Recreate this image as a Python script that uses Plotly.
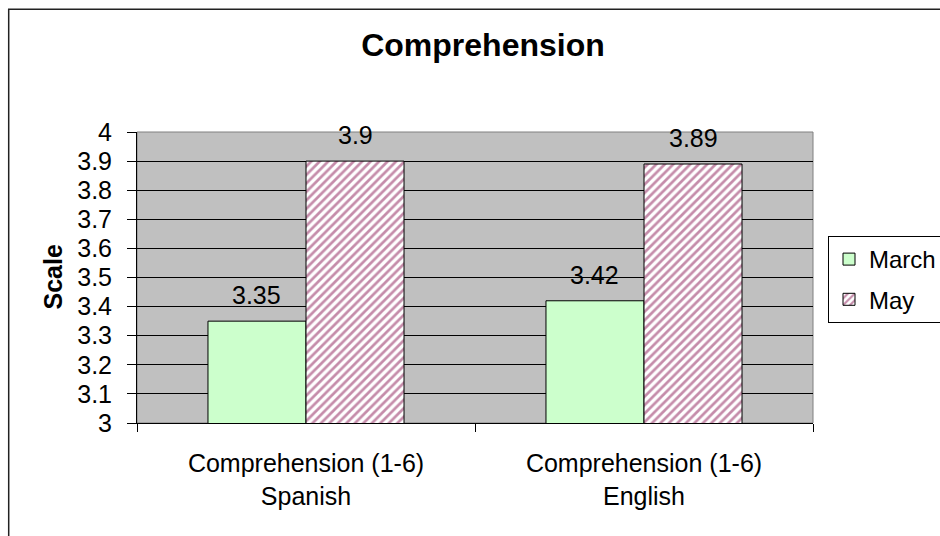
import plotly.graph_objects as go

categories = ["Comprehension (1-6)<br>Spanish", "Comprehension (1-6)<br>English"]
series_names = ["March", "May"]
march_values = [3.35, 3.42]
may_values = [3.9, 3.89]
y_range = [3, 4]
y_dtick = 0.1
chart_title = "Comprehension"
y_title = "Scale"

FONT = "Liberation Sans, Arial, sans-serif"
W, H = 940, 536
ML, MR, MT, MB = 137, 127, 132, 113
BARGAP = 0.42
FS = 25

fig = go.Figure()
fig.add_trace(go.Bar(
    name=series_names[0], x=categories, y=march_values,
    marker=dict(color="#CCFFCC", line=dict(color="black", width=1)),
    legendgroup="a",
))
fig.add_trace(go.Bar(
    name=series_names[1], x=categories, y=may_values,
    marker=dict(color="white", line=dict(color="black", width=1),
                pattern=dict(shape="/", fgcolor="#8B1A55", bgcolor="white",
                             size=6, solidity=0.45)),
    legendgroup="b",
))

# value labels above bars
bw = (1 - BARGAP) / 2
annotations = []
for si, vals in enumerate([march_values, may_values]):
    off = -bw / 2 if si == 0 else bw / 2
    for ci, v in enumerate(vals):
        annotations.append(dict(
            x=ci + off, y=v, xref="x", yref="y", text=f"{v:g}",
            showarrow=False, yanchor="middle", yshift=26,
            font=dict(family=FONT, size=FS, color="black"),
        ))

pw = W - ML - MR
ph = H - MT - MB
def px_x(p):
    return (p - ML) / pw
def px_y(p):
    return (H - MB - p) / ph

# y axis title as text, centred at the reference position
annotations.append(dict(
    x=px_x(52), y=0.5, xref="paper", yref="paper", text=f"<b>{y_title}</b>",
    showarrow=False, textangle=-90, xanchor="center", yanchor="middle",
    font=dict(family=FONT, size=FS, color="black"),
))

shapes = [
    dict(type="rect", xref="paper", yref="paper", x0=0, x1=1, y0=0, y1=1,
         line=dict(color="#808080", width=1), layer="below"),
    dict(type="rect", xref="paper", yref="paper",
         x0=px_x(8.7), x1=px_x(W + 20), y0=px_y(H + 20), y1=px_y(9.3),
         line=dict(color="#222222", width=1.5)),
]

fig.update_layout(
    width=W, height=H,
    margin=dict(l=ML, r=MR, t=MT, b=MB, pad=0, autoexpand=False),
    paper_bgcolor="white", plot_bgcolor="#C0C0C0",
    barmode="group", bargap=BARGAP, bargroupgap=0,
    font=dict(family=FONT, size=FS, color="black"),
    title=dict(text=f"<b>{chart_title}</b>", x=px_x(483), xref="paper", xanchor="center",
               y=1 - 45 / H, yref="container", yanchor="middle",
               font=dict(family=FONT, size=32, color="black")),
    legend=dict(x=px_x(828), y=px_y(236), xanchor="left", yanchor="top",
                bgcolor="white", bordercolor="black", borderwidth=1,
                font=dict(family=FONT, size=24, color="black"),
                traceorder="grouped", tracegroupgap=6, itemwidth=30),
    annotations=annotations,
    shapes=shapes,
)
fig.update_xaxes(
    type="category", tickson="boundaries", ticks="outside", ticklen=8,
    tickcolor="black", showline=True, linecolor="black", linewidth=1,
    showgrid=False, tickfont=dict(family=FONT, size=FS, color="black"),
    ticklabelstandoff=18, automargin=False,
)
fig.update_yaxes(
    range=y_range, dtick=y_dtick, tick0=3, ticks="outside", ticklen=9,
    tickcolor="black", showline=True, linecolor="black", linewidth=1,
    showgrid=True, gridcolor="black", gridwidth=1, zeroline=False,
    tickformat="~g", tickfont=dict(family=FONT, size=FS, color="black"),
    ticklabelstandoff=10, automargin=False,
)

fig.write_html("out.html")
